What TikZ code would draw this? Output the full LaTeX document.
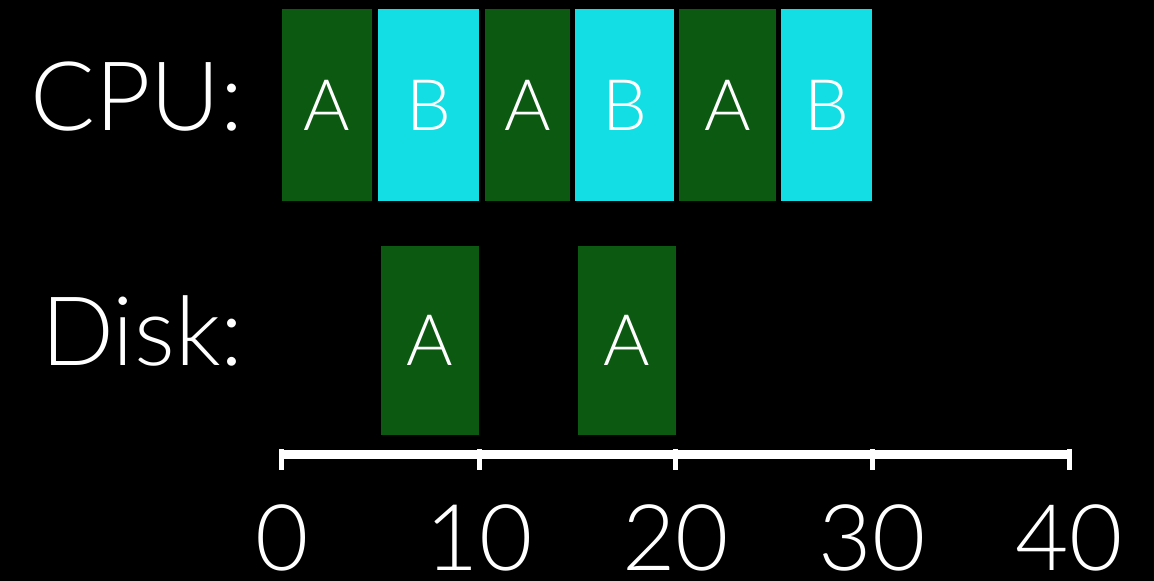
\documentclass[tikz,border=0pt]{standalone}
\usepackage{fontspec}
\setmainfont{Lato}[UprightFont={* Light}]
\definecolor{bgreen}{RGB}{12,89,18}
\definecolor{bcyan}{RGB}{19,222,227}
\begin{document}
\begin{tikzpicture}[x=1pt,y=-1pt,
  slot/.style={rectangle,inner sep=0pt,text=white,font=\fontsize{71}{71}\selectfont},
  jobA/.style={slot,fill=bgreen},
  jobB/.style={slot,fill=bcyan},
  rowlabel/.style={text=white,inner sep=0pt,anchor=base east,font=\fontsize{96}{96}\selectfont},
  ticklabel/.style={text=white,inner sep=0pt,anchor=base,font=\fontsize{92}{92}\selectfont},
  axisline/.style={white,line width=9pt},
  tickmark/.style={white,line width=5pt}]
\useasboundingbox (0,0) rectangle (1154,581);
\fill[black] (0,0) rectangle (1154,581);
% row labels
\node[rowlabel] (cpu) at (244,130) {CPU:};
\node[rowlabel] (disk) at (244,365) {Disk:};
% CPU row
\node[jobA,minimum width=90pt,minimum height=192pt] (c1) at (327,105) {A};
\node[jobB,minimum width=101pt,minimum height=192pt] (c2) at (428.5,105) {B};
\node[jobA,minimum width=85pt,minimum height=192pt] (c3) at (527.5,105) {A};
\node[jobB,minimum width=99pt,minimum height=192pt] (c4) at (624.5,105) {B};
\node[jobA,minimum width=97pt,minimum height=192pt] (c5) at (727.5,105) {A};
\node[jobB,minimum width=91pt,minimum height=192pt] (c6) at (826.5,105) {B};
% Disk row
\node[jobA,minimum width=98pt,minimum height=189pt] (d1) at (430,340.5) {A};
\node[jobA,minimum width=98pt,minimum height=189pt] (d2) at (627,340.5) {A};
% axis
\coordinate (a0) at (281.5,454);
\coordinate (a1) at (479,454);
\coordinate (a2) at (675.5,454);
\coordinate (a3) at (872,454);
\coordinate (a4) at (1069,454);
\draw[axisline] ([xshift=-2.5pt]a0) -- ([xshift=2.5pt]a4);
\foreach \c in {a0,a1,a2,a3,a4}{
  \draw[tickmark] ([yshift=5pt]\c) -- ([yshift=-16pt]\c);
}
\node[ticklabel] (l0) at (282,570) {0};
\node[ticklabel] (l1) at (479,570) {10};
\node[ticklabel] (l2) at (675.5,570) {20};
\node[ticklabel] (l3) at (872,570) {30};
\node[ticklabel] (l4) at (1069,570) {40};
\end{tikzpicture}
\end{document}
